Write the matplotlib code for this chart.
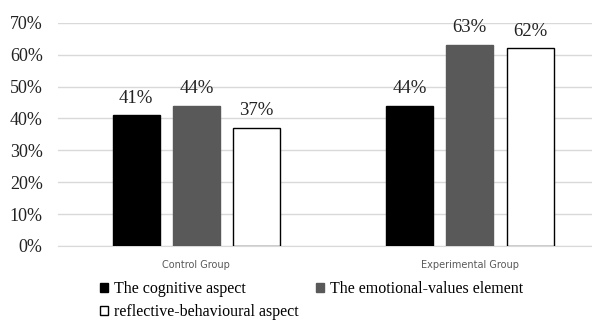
import matplotlib.pyplot as plt
import numpy as np
from matplotlib.patches import Patch

# Data
groups = ['Control Group', 'Experimental Group']
cognitive = [0.41, 0.44]
emotional = [0.44, 0.63]
reflective = [0.37, 0.62]
y_ticks = [0, 0.1, 0.2, 0.3, 0.4, 0.5, 0.6, 0.7]
tick_labels = ['0%', '10%', '20%', '30%', '40%', '50%', '60%', '70%']

plt.rcParams['font.family'] = ['Liberation Serif', 'DejaVu Serif']

fig = plt.figure(figsize=(5.92, 3.22), dpi=100)
ax = fig.add_axes([58 / 592, 76 / 322, 534 / 592, 223.3 / 322])

x = np.arange(len(groups))
w = 0.172
off = 0.2205

series = [
    (cognitive, 'black', 'black', 'The cognitive aspect'),
    (emotional, '#595959', '#595959', 'The emotional-values element'),
    (reflective, 'white', 'black', 'reflective-behavioural aspect'),
]

for i, (vals, fc, ec, lab) in enumerate(series):
    pos = x + (i - 1) * off
    ax.bar(pos, vals, width=w, color=fc, edgecolor=ec, linewidth=1, zorder=3)
    for px, v in zip(pos, vals):
        ax.text(px, v + 0.027, f'{round(v * 100)}%', ha='center', va='bottom',
                fontsize=13.5, color='#222222')

ax.set_xlim(-0.506, 1.447)
ax.set_ylim(0, 0.7)
ax.set_yticks(y_ticks)
ax.set_yticklabels(tick_labels, fontsize=13, color='#222222')
ax.yaxis.grid(True, color='#d9d9d9', linewidth=1, zorder=0)
ax.set_axisbelow(True)
ax.tick_params(axis='y', length=0, pad=11)
ax.tick_params(axis='x', length=0, pad=10)
ax.set_xticks(x)
ax.set_xticklabels(groups, fontsize=7, color='#595959', family='DejaVu Sans')
for s in ['top', 'right', 'left']:
    ax.spines[s].set_visible(False)
ax.spines['bottom'].set_color('#d9d9d9')

handles = [
    Patch(facecolor='black', edgecolor='black', label='The cognitive aspect'),
    Patch(facecolor='white', edgecolor='black', label='reflective-behavioural aspect'),
    Patch(facecolor='#595959', edgecolor='#595959', label='The emotional-values element'),
]
fig.legend(handles=handles, ncol=2, loc='upper left', bbox_to_anchor=(100 / 592, 1 - 281 / 322),
           frameon=False, fontsize=11.5, handlelength=0.5, handleheight=0.5,
           handletextpad=0.4, columnspacing=1.05, labelspacing=0.45,
           borderpad=0, borderaxespad=0)

fig.savefig('out.png', dpi=100)
